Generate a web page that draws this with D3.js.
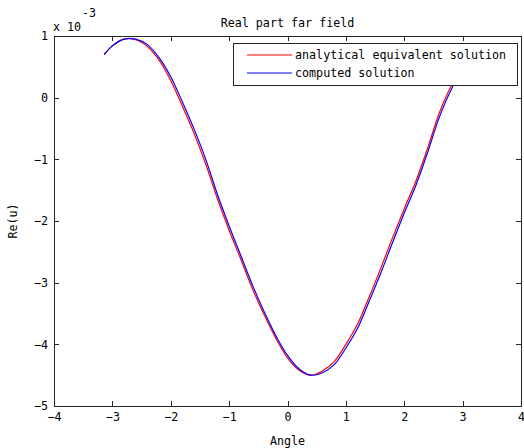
<!DOCTYPE html>
<html>
<head>
<meta charset="utf-8">
<script src="https://cdn.jsdelivr.net/npm/d3@7"></script>
<style>
  html, body { margin: 0; padding: 0; background: #fff; }
  svg text { font-family: "DejaVu Sans Mono", monospace; font-size: 11.7px; fill: #000; }
</style>
</head>
<body>
<svg id="chart" width="524" height="448"></svg>
<script>
// Far-field samples (values in units of 1e-3)
const angles = [-3.14, -3.0, -2.8, -2.6, -2.4, -2.2, -2.0, -1.8, -1.6, -1.4, -1.2, -1.0, -0.8, -0.6, -0.4, -0.2,
  0.0, 0.2, 0.4, 0.6, 0.8, 1.0, 1.2, 1.4, 1.6, 1.8, 2.0, 2.2, 2.4, 2.6, 2.8, 3.0, 3.14];
const analytical = [0.70, 0.84, 0.95, 0.94, 0.83, 0.61, 0.28, -0.14, -0.58, -1.08, -1.64, -2.15, -2.62, -3.10, -3.52, -3.90,
  -4.22, -4.42, -4.50, -4.43, -4.28, -4.00, -3.67, -3.23, -2.76, -2.27, -1.80, -1.35, -0.82, -0.25, 0.18, 0.50, 0.70];
const computed = [0.70, 0.84, 0.95, 0.95, 0.86, 0.65, 0.34, -0.07, -0.51, -1.00, -1.57, -2.08, -2.56, -3.04, -3.47, -3.86,
  -4.18, -4.40, -4.50, -4.46, -4.33, -4.06, -3.74, -3.30, -2.84, -2.35, -1.87, -1.42, -0.89, -0.32, 0.12, 0.45, 0.66];
const xTicks = [-4, -3, -2, -1, 0, 1, 2, 3, 4];
const yTicks = [-5, -4, -3, -2, -1, 0, 1];
const seriesNames = ["analytical equivalent solution", "computed solution"];
const seriesColors = ["#ff0000", "#0000ff"];

const svg = d3.select("#chart");
const plotLeft = 54, plotRight = 521, plotTop = 36, plotBottom = 406;

const x = d3.scaleLinear().domain([-4, 4]).range([plotLeft, plotRight]);
const y = d3.scaleLinear().domain([-5, 1]).range([plotBottom, plotTop]);

const axisColor = "#262626";
const tickLen = 5;

// Box around the plot area
svg.append("rect")
  .attr("x", plotLeft).attr("y", plotTop)
  .attr("width", plotRight - plotLeft).attr("height", plotBottom - plotTop)
  .attr("fill", "none").attr("stroke", axisColor).attr("stroke-width", 1)
  .attr("shape-rendering", "crispEdges");

// Inward ticks on all four sides
function styleAxis(g) {
  g.select(".domain").remove();
  g.selectAll(".tick line").attr("stroke", axisColor).attr("shape-rendering", "crispEdges");
  g.selectAll(".tick text").style("font-family", "DejaVu Sans Mono").style("font-size", "11.7px").attr("fill", "#000");
}
svg.append("g").attr("transform", `translate(0,${plotBottom})`)
  .call(d3.axisBottom(x).tickValues(xTicks).tickFormat(d3.format("d")).tickSizeInner(-tickLen))
  .call(styleAxis)
  .selectAll(".tick text").attr("y", 7).attr("dy", "0.71em");
svg.append("g").attr("transform", `translate(0,${plotTop})`)
  .call(d3.axisTop(x).tickValues(xTicks).tickFormat("").tickSizeInner(-tickLen))
  .call(styleAxis);
svg.append("g").attr("transform", `translate(${plotLeft},0)`)
  .call(d3.axisLeft(y).tickValues(yTicks).tickFormat(d3.format("d")).tickSizeInner(-tickLen))
  .call(styleAxis)
  .selectAll(".tick text").attr("x", -6);
svg.append("g").attr("transform", `translate(${plotRight},0)`)
  .call(d3.axisRight(y).tickValues(yTicks).tickFormat("").tickSizeInner(-tickLen))
  .call(styleAxis);

// Lines
const line = d3.line().x((d, i) => x(angles[i])).y(d => y(d)).curve(d3.curveCatmullRom.alpha(0.5));
[analytical, computed].forEach((vals, k) => {
  svg.append("path")
    .datum(vals)
    .attr("d", line)
    .attr("fill", "none")
    .attr("stroke", seriesColors[k])
    .attr("stroke-width", 1.2);
});

// Exponent label
svg.append("text").attr("x", 53).attr("y", 31).text("x 10");
svg.append("text").attr("x", 82).attr("y", 17).text("-3");

// Title and axis labels
svg.append("text").attr("x", (plotLeft + plotRight) / 2).attr("y", 27).attr("text-anchor", "middle").text("Real part far field");
svg.append("text").attr("x", (plotLeft + plotRight) / 2).attr("y", 445).attr("text-anchor", "middle").text("Angle");
svg.append("text").attr("transform", `translate(17,${(plotTop + plotBottom) / 2}) rotate(-90)`).attr("text-anchor", "middle").text("Re(u)");

// Legend
const legend = svg.append("g");
legend.append("rect")
  .attr("x", 233).attr("y", 43).attr("width", 284).attr("height", 42)
  .attr("fill", "#fff").attr("stroke", axisColor).attr("stroke-width", 1)
  .attr("shape-rendering", "crispEdges");
seriesNames.forEach((name, k) => {
  const ly = 55 + k * 18;
  legend.append("line")
    .attr("x1", 247).attr("x2", 292).attr("y1", ly).attr("y2", ly)
    .attr("stroke", seriesColors[k]).attr("stroke-width", 1.2);
  legend.append("text").attr("x", 295).attr("y", ly).attr("dy", "0.35em").text(name);
});
</script>
</body>
</html>
